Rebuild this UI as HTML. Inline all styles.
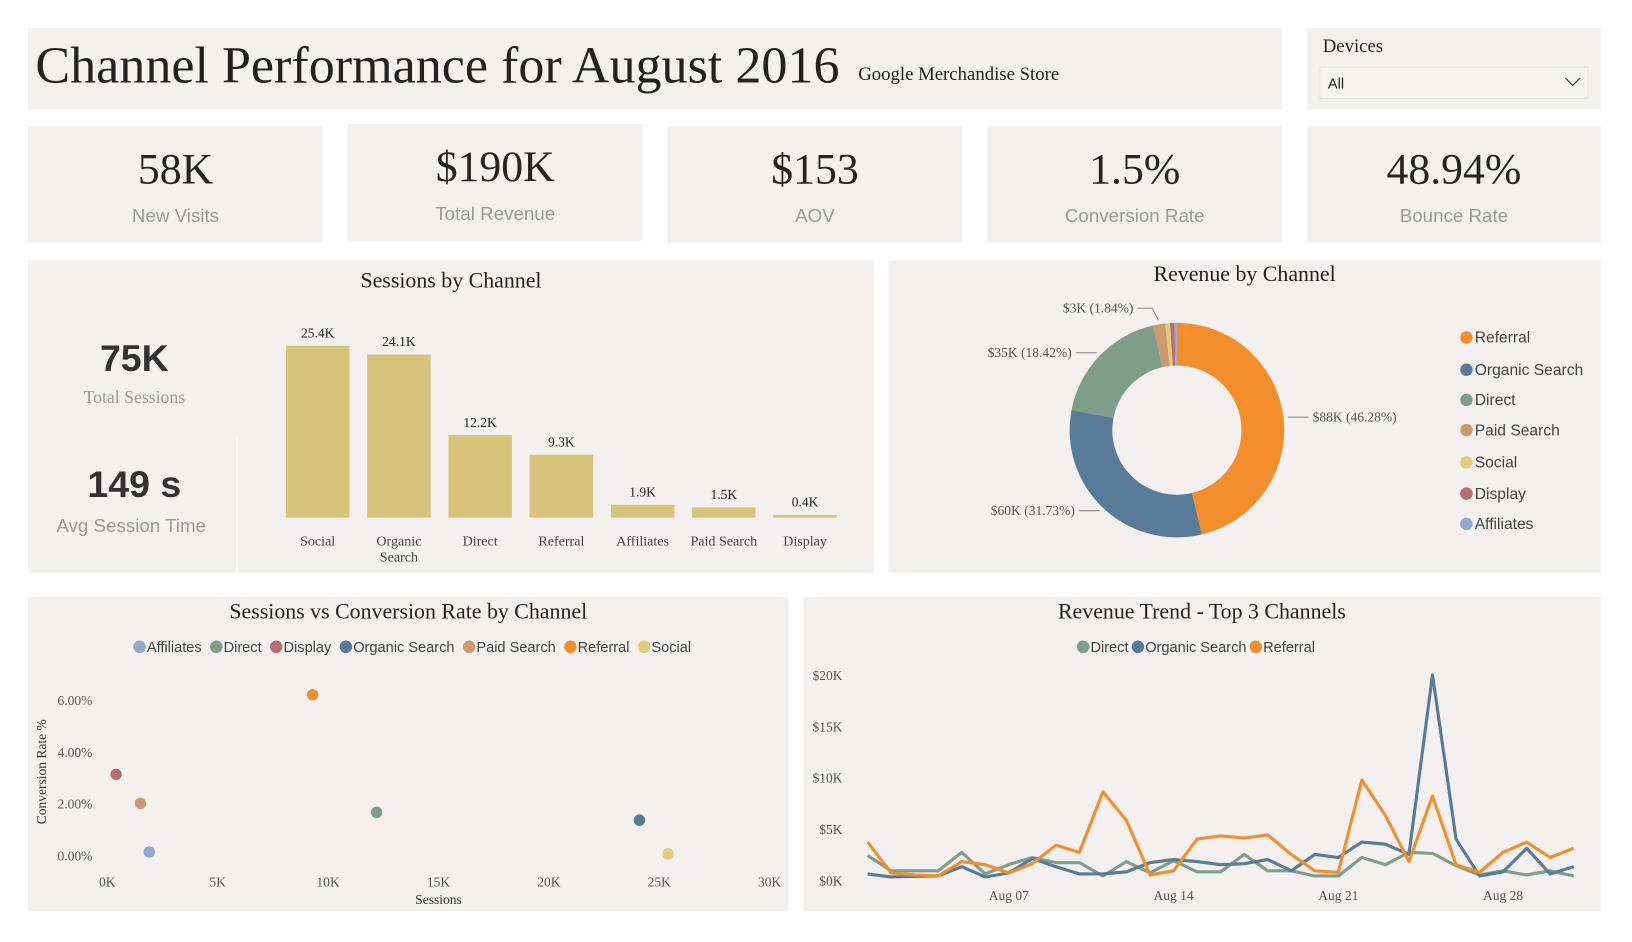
<!DOCTYPE html>
<html><head><meta charset="utf-8"><style>
html,body{margin:0;padding:0;background:#fff;overflow:hidden;width:1632px;height:941px}
#stage{position:absolute;left:0;top:0;width:1567px;height:904px;transform:scale(1.0415);transform-origin:0 0;font-family:"Liberation Serif",serif;color:#222}
.p{position:absolute;background:#F3F0EF}
.serif{font-family:"Liberation Serif",serif}
.sans{font-family:"Liberation Sans",sans-serif}
.kv{position:absolute;left:0;right:0;text-align:center;font-size:42px;top:18px;color:#252423}
.kl{position:absolute;left:0;right:0;text-align:center;font-size:18px;top:76px;color:#9a9a9a;font-family:"Liberation Sans",sans-serif}
svg text{font-family:"Liberation Serif",serif}
</style></head><body>
<div id="stage">
<div class="p" style="left:27px;top:27px;width:1204px;height:78px">
 <span style="position:absolute;left:7px;top:6px;font-size:50px;white-space:nowrap">Channel Performance for August 2016</span>
 <span style="position:absolute;left:797px;top:34px;font-size:18px;white-space:nowrap">Google Merchandise Store</span>
</div>
<div class="p" style="left:1255px;top:27px;width:282px;height:78px">
 <span style="position:absolute;left:15px;top:7px;font-size:18px">Devices</span>
 <div style="position:absolute;left:12px;top:37px;width:256px;height:29px;border:1px solid #e6e3e2;background:#f5f3f2">
  <span class="sans" style="position:absolute;left:7px;top:7px;font-size:14px">All</span>
  <svg style="position:absolute;right:6px;top:9px" width="16" height="10"><path d="M1 1 L8 8 L15 1" fill="none" stroke="#444" stroke-width="1.2"/></svg>
 </div>
</div>
<div class="p" style="left:27px;top:121px;width:283px;height:112px"><div class="kv">58K</div><div class="kl">New Visits</div></div>
<div class="p" style="left:334px;top:119px;width:283px;height:112px"><div class="kv">$190K</div><div class="kl">Total Revenue</div></div>
<div class="p" style="left:641px;top:121px;width:283px;height:112px"><div class="kv">$153</div><div class="kl">AOV</div></div>
<div class="p" style="left:948px;top:121px;width:283px;height:112px"><div class="kv">1.5%</div><div class="kl">Conversion Rate</div></div>
<div class="p" style="left:1255px;top:121px;width:282px;height:112px"><div class="kv">48.94%</div><div class="kl">Bounce Rate</div></div>

<div class="p" style="left:27px;top:250px;width:812px;height:300px">
 <div style="position:absolute;left:0;width:812px;top:7px;text-align:center;font-size:21px">Sessions by Channel</div>
 <div class="sans" style="position:absolute;left:0;width:204px;top:73px;text-align:center;font-size:36px;font-weight:bold;color:#333">75K</div>
 <div style="position:absolute;left:0;width:204px;top:122px;text-align:center;font-size:17px;color:#9a9a9a">Total Sessions</div>
 <div class="sans" style="position:absolute;left:0;width:204px;top:194px;text-align:center;font-size:36px;font-weight:bold;color:#333">149 s</div>
 <div class="sans" style="position:absolute;left:0;width:198px;top:245px;text-align:center;font-size:18px;color:#9a9a9a">Avg Session Time</div>
 <div style="position:absolute;left:200px;top:170px;width:1px;height:130px;background:#fff"></div>
</div>
<svg id="bars" style="position:absolute;left:0;top:0" width="1567" height="904"></svg>

<div class="p" style="left:853px;top:250px;width:684px;height:300px">
 <div style="position:absolute;left:0;width:684px;top:1px;text-align:center;font-size:21px">Revenue by Channel</div>
</div>
<svg id="donut" style="position:absolute;left:0;top:0" width="1567" height="904"></svg>

<div class="p" style="left:27px;top:573px;width:730px;height:302px">
 <div style="position:absolute;left:0;width:730px;top:2px;text-align:center;font-size:21px">Sessions vs Conversion Rate by Channel</div>
</div>
<svg id="scatter" style="position:absolute;left:0;top:0" width="1567" height="904"></svg>

<div class="p" style="left:771px;top:573px;width:766px;height:302px">
 <div style="position:absolute;left:0;width:766px;top:2px;text-align:center;font-size:21px">Revenue Trend - Top 3 Channels</div>
</div>
<svg id="trend" style="position:absolute;left:0;top:0" width="1567" height="904"></svg>
</div>
<script>
const NS='http://www.w3.org/2000/svg';
function mk(parent,tag,attrs,txt){const e=document.createElementNS(NS,tag);for(const k in attrs)e.setAttribute(k,attrs[k]);if(txt!==undefined)e.textContent=txt;parent.appendChild(e);return e;}

// ---- Bar chart data ----
const barCategories=['Social','Organic\nSearch','Direct','Referral','Affiliates','Paid Search','Display'];
const barValues=[25.4,24.1,12.2,9.3,1.9,1.5,0.4];
const barLabels=['25.4K','24.1K','12.2K','9.3K','1.9K','1.5K','0.4K'];
(function(){
 const svg=document.getElementById('bars');
 const x0=305,step=78,bw=61,base=497;
 const yS=v=>base-v*(165/25.4);
 barValues.forEach((v,i)=>{
  const cx=x0+i*step;
  const r=mk(svg,'rect',{x:cx-bw/2,y:yS(v),width:bw,height:base-yS(v),fill:'#D8C37A'});
  
  
  const t=mk(svg,'text',{x:cx,y:yS(v)-8,'text-anchor':'middle','font-size':13,fill:'#222'},barLabels[i]);
  
  
  barCategories[i].split('\n').forEach((ln,j)=>{
   const c=mk(svg,'text',{x:cx,y:524+j*15,'text-anchor':'middle','font-size':13.5,fill:'#444'},ln);
   
   
  });
 });
})();

// ---- Donut data ----
const donutCategories=['Referral','Organic Search','Direct','Paid Search','Social','Display','Affiliates'];
const donutShares=[46.28,31.73,18.42,1.84,0.7,0.65,0.38];
const donutLabels=['$88K (46.28%)','$60K (31.73%)','$35K (18.42%)','$3K (1.84%)','','',''];
const donutColors=['#F28E2B','#587B9A','#7F9E8A','#CC9A6E','#E2CB7A','#B86D72','#92A9CF'];
(function(){
 const svg=document.getElementById('donut');
 const cx=1130,cy=413,R=103,r=62;
 const tot=donutShares.reduce((a,b)=>a+b,0);
 let a=0;
 const pt=(ang,rad)=>[cx+rad*Math.sin(ang),cy-rad*Math.cos(ang)];
 donutShares.forEach((s,i)=>{
  const a1=a+s/tot*2*Math.PI;const lg=(a1-a)>Math.PI?1:0;
  const p1=pt(a,R),p2=pt(a1,R),p3=pt(a1,r),p4=pt(a,r);
  const p=mk(svg,'path',{d:`M${p1} A${R} ${R} 0 ${lg} 1 ${p2} L${p3} A${r} ${r} 0 ${lg} 0 ${p4}Z`,fill:donutColors[i]});
  
  
  if(donutLabels[i]){
   const mid=(a+a1)/2;const [ex,ey]=pt(mid,R+4);const right=Math.sin(mid)>0;
   const lx=right?ex+20:ex-20;
   let ly=ey; if(i===3){ly=cy-R-14;}
   mk(svg,'polyline',{points:`${ex},${ey} ${right?ex+6:ex-6},${ly} ${lx},${ly}`,fill:'none',stroke:'#888','stroke-width':1});
   const t=mk(svg,'text',{x:right?lx+4:lx-4,y:ly+4,'text-anchor':right?'start':'end','font-size':13,fill:'#555'},donutLabels[i]);
   
   
  }
  a=a1;
 });
 const ly=[324,355,384,413,444,474,503];
 donutCategories.forEach((c,i)=>{
  const g=mk(svg,'g',{});
  
  
  mk(g,'circle',{cx:1408,cy:ly[i],r:6,fill:donutColors[i]});
  mk(g,'text',{x:1416,y:ly[i]+5,'font-size':15,fill:'#444',style:'font-family:Liberation Sans,sans-serif'},c);
 });
})();

// ---- Scatter data ----
const scCategories=['Affiliates','Direct','Display','Organic Search','Paid Search','Referral','Social'];
const scSessions=[1.9,12.2,0.4,24.1,1.5,9.3,25.4];
const scConv=[0.12,1.65,3.12,1.35,2.0,6.2,0.05];
const scColors=['#92A9CF','#7F9E8A','#B86D72','#587B9A','#CC9A6E','#F28E2B','#E2CB7A'];
const scXTicks=[0,5,10,15,20,25,30];
const scXTickLabels=['0K','5K','10K','15K','20K','25K','30K'];
const scYTicks=[0,2,4,6];
const scYTickLabels=['0.00%','2.00%','4.00%','6.00%'];
(function(){
 const svg=document.getElementById('scatter');
 const X=v=>103+v*(636/30), Y=v=>821-v*(149/6);
 scXTicks.forEach((v,i)=>{const t=mk(svg,'text',{x:X(v),y:851,'text-anchor':'middle','font-size':13,fill:'#555'},scXTickLabels[i]);});
 scYTicks.forEach((v,i)=>{const t=mk(svg,'text',{x:72,y:Y(v)+5,'text-anchor':'middle','font-size':13,fill:'#555'},scYTickLabels[i]);});
 const xt=mk(svg,'text',{x:421,y:868,'text-anchor':'middle','font-size':13,fill:'#333'},'Sessions');
 
 const yt=mk(svg,'text',{x:0,y:0,'text-anchor':'middle','font-size':13,fill:'#333',transform:'translate(44,741) rotate(-90)'},'Conversion Rate %');
 
 scSessions.forEach((s,i)=>{const c=mk(svg,'circle',{cx:X(s),cy:Y(scConv[i]),r:5.5,fill:scColors[i]});});
 // legend
 let x=129;
 scCategories.forEach((c,i)=>{
  const g=mk(svg,'g',{});
  
  
  mk(g,'circle',{cx:x+5,cy:621,r:6,fill:scColors[i]});
  const t=mk(g,'text',{x:x+12,y:626,'font-size':14,fill:'#444',style:'font-family:Liberation Sans,sans-serif'},c);
  x+=12+t.getComputedTextLength()+9;
 });
})();

// ---- Trend data ----
const trDays=[1,2,3,4,5,6,7,8,9,10,11,12,13,14,15,16,17,18,19,20,21,22,23,24,25,26,27,28,29,30,31];
const trDirect=[2.4,0.9,0.9,0.9,2.7,0.6,1.5,2.2,1.7,1.7,0.4,1.8,0.7,1.9,0.8,0.8,2.5,0.9,0.9,0.4,0.4,2.2,1.5,2.7,2.6,1.4,0.5,0.9,0.5,0.9,0.4];
const trOrganic=[0.6,0.3,0.35,0.4,1.3,0.3,0.7,2.1,1.3,0.6,0.6,0.8,1.7,2.0,1.8,1.5,1.6,2.0,0.9,2.5,2.2,3.7,3.5,2.5,20,4.0,0.4,0.8,3.1,0.6,1.3];
const trReferral=[3.7,0.7,0.5,0.4,1.8,1.5,0.7,1.6,3.4,2.7,8.6,5.8,0.5,0.9,4.0,4.3,4.1,4.4,2.5,0.9,0.75,9.75,6.3,1.8,8.2,1.5,0.75,2.7,3.7,2.2,3.1];
const trYTicks=[0,5,10,15,20];
const trYTickLabels=['$0K','$5K','$10K','$15K','$20K'];
const trXTicks=[7,14,21,28];
const trXTickLabels=['Aug 07','Aug 14','Aug 21','Aug 28'];
(function(){
 const svg=document.getElementById('trend');
 const X=d=>833+(d-1)*(678/30), Y=v=>845-v*(197/20);
 trYTicks.forEach((v,i)=>{const t=mk(svg,'text',{x:809,y:Y(v)+5,'text-anchor':'end','font-size':13,fill:'#555'},trYTickLabels[i]);});
 trXTicks.forEach((v,i)=>{const t=mk(svg,'text',{x:X(v),y:864,'text-anchor':'middle','font-size':13,fill:'#555'},trXTickLabels[i]);});
 const series=[['direct',trDirect,'#7F9E8A'],['organic-search',trOrganic,'#587B9A'],['referral',trReferral,'#F28E2B']];
 series.forEach(([n,vals,col])=>{
  const l=mk(svg,'polyline',{points:vals.map((v,i)=>X(trDays[i])+','+Y(v)).join(' '),fill:'none',stroke:col,'stroke-width':3,'stroke-linejoin':'round'});
  
  
 });
 const names=['Direct','Organic Search','Referral'];
 let x=1035;
 names.forEach((c,i)=>{
  const g=mk(svg,'g',{});
  
  
  mk(g,'circle',{cx:x+5,cy:621,r:6,fill:series[i][2]});
  const t=mk(g,'text',{x:x+12,y:626,'font-size':14,fill:'#444',style:'font-family:Liberation Sans,sans-serif'},c);
  x+=12+t.getComputedTextLength()+4;
 });
})();
</script>
</body></html>
